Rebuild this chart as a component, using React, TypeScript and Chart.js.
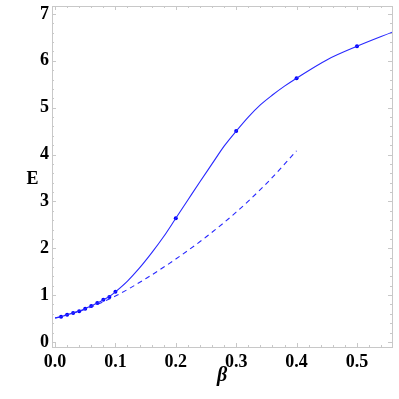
import React, { useEffect, useRef } from "react";
import { Chart, registerables } from "chart.js";

Chart.register(...registerables);

// Solid curve
const solidBeta = [0, 0.01, 0.02, 0.03, 0.04, 0.05, 0.06, 0.07, 0.08, 0.09, 0.1, 0.12, 0.14, 0.16, 0.18, 0.2, 0.22, 0.24, 0.26, 0.28, 0.3, 0.32, 0.34, 0.36, 0.38, 0.4, 0.45, 0.5, 0.56];
const solidE = [0.51, 0.54, 0.58, 0.62, 0.66, 0.71, 0.77, 0.83, 0.9, 0.97, 1.07, 1.3, 1.58, 1.9, 2.25, 2.64, 3.03, 3.42, 3.8, 4.18, 4.5, 4.8, 5.06, 5.27, 5.46, 5.63, 6.02, 6.31, 6.62];

// Dashed curve
const dashedBeta = [0, 0.05, 0.1, 0.15, 0.2, 0.25, 0.3, 0.35, 0.4];
const dashedE = [0.51, 0.7, 0.98, 1.35, 1.77, 2.24, 2.77, 3.38, 4.08];

// Marked points
const dotBeta = [0.01, 0.02, 0.03, 0.04, 0.05, 0.06, 0.07, 0.08, 0.09, 0.1, 0.2, 0.3, 0.4, 0.5];
const dotE = [0.54, 0.58, 0.62, 0.655, 0.71, 0.77, 0.83, 0.9, 0.96, 1.07, 2.64, 4.5, 5.63, 6.31];

// Axis ticks
const xTicks = [0, 0.1, 0.2, 0.3, 0.4, 0.5];
const yTicks = [0, 1, 2, 3, 4, 5, 6, 7];
const xTitle = "β";
const yTitle = "E";

const X_MIN = -0.005;
const X_MAX = 0.558;
const Y_MIN = -0.107;
const Y_MAX = 7.17;

const FONT = "'Liberation Serif', 'Times New Roman', serif";

const framePlugin = {
  id: "frame",
  beforeDatasetsDraw(chart: any) {
    const { ctx, chartArea } = chart;
    const { left, top, right, bottom } = chartArea;
    const xs = chart.scales.x;
    const ys = chart.scales.y;
    ctx.save();
    ctx.strokeStyle = "#c8c8c8";
    ctx.lineWidth = 1;
    ctx.strokeRect(Math.round(left) + 0.5, Math.round(top) + 0.5, Math.round(right - left), Math.round(bottom - top));
    ctx.beginPath();
    const xMinor: number[] = [];
    for (let i = 0; i <= 28; i++) xMinor.push(i * 0.02);
    xMinor.forEach((v) => {
      const major = xTicks.some((t) => Math.abs(t - v) < 1e-6);
      const len = major ? 4 : 2;
      const px = Math.round(xs.getPixelForValue(v)) + 0.5;
      if (px < left || px > right) return;
      ctx.moveTo(px, bottom);
      ctx.lineTo(px, bottom - len);
      ctx.moveTo(px, top);
      ctx.lineTo(px, top + len);
    });
    const yMinor: number[] = [];
    for (let i = 0; i <= 35; i++) yMinor.push(i * 0.2);
    yMinor.forEach((v) => {
      const major = yTicks.some((t) => Math.abs(t - v) < 1e-6);
      const len = major ? 4 : 2;
      const py = Math.round(ys.getPixelForValue(v)) + 0.5;
      if (py < top || py > bottom) return;
      ctx.moveTo(left, py);
      ctx.lineTo(left + len, py);
      ctx.moveTo(right, py);
      ctx.lineTo(right - len, py);
    });
    ctx.stroke();
    ctx.restore();
  },
  afterDraw(chart: any) {
    const { ctx, chartArea } = chart;
    ctx.save();
    ctx.fillStyle = "#000";
    ctx.textAlign = "center";
    ctx.textBaseline = "middle";
    ctx.font = `bold 18px ${FONT}`;
    ctx.fillText(yTitle, 32.5, 179);
    ctx.font = `italic bold 20px ${FONT}`;
    ctx.fillText(xTitle, (chartArea.left + chartArea.right) / 2, 376);
    ctx.restore();
  },
};

export default function App() {
  const ref = useRef<HTMLCanvasElement | null>(null);
  useEffect(() => {
    document.body.style.margin = "0";
    const canvas = ref.current;
    if (!canvas) return;
    const blue = "rgb(40,40,255)";
    const chart = new Chart(canvas, {
      type: "scatter",
      data: {
        datasets: [
          {
            data: solidBeta.map((x, i) => ({ x, y: solidE[i] })),
            showLine: true,
            borderColor: blue,
            borderWidth: 1.1,
            pointRadius: 0,
            cubicInterpolationMode: "monotone",
          },
          {
            data: dashedBeta.map((x, i) => ({ x, y: dashedE[i] })),
            showLine: true,
            borderColor: blue,
            borderWidth: 1.1,
            borderDash: [5, 4],
            pointRadius: 0,
            cubicInterpolationMode: "monotone",
          },
          {
            data: dotBeta.map((x, i) => ({ x, y: dotE[i] })),
            showLine: false,
            backgroundColor: "rgb(0,0,255)",
            borderColor: "rgb(0,0,255)",
            borderWidth: 0,
            pointRadius: 2,
          },
        ],
      } as any,
      options: {
        animation: false,
        responsive: true,
        maintainAspectRatio: false,
        layout: { padding: { left: 0, top: 6, right: 7, bottom: 0 } },
        plugins: { legend: { display: false }, tooltip: { enabled: false } },
        scales: {
          x: {
            type: "linear",
            min: X_MIN,
            max: X_MAX,
            grid: { display: false, drawTicks: false },
            border: { display: false },
            afterBuildTicks: (s: any) => {
              s.ticks = xTicks.map((v) => ({ value: v }));
            },
            afterFit: (s: any) => {
              s.height = 52;
              s.paddingLeft = 0;
              s.paddingRight = 0;
            },
            ticks: {
              padding: 5,
              color: "#000",
              maxRotation: 0,
              font: { family: FONT, size: 18, weight: "bold" },
              callback: (v: any) => Number(v).toFixed(1),
            },
          },
          y: {
            type: "linear",
            min: Y_MIN,
            max: Y_MAX,
            grid: { display: false, drawTicks: false },
            border: { display: false },
            afterBuildTicks: (s: any) => {
              s.ticks = yTicks.map((v) => ({ value: v }));
            },
            afterFit: (s: any) => {
              s.width = 52;
              s.paddingTop = 0;
              s.paddingBottom = 0;
            },
            ticks: {
              padding: 3,
              color: "#000",
              font: { family: FONT, size: 18, weight: "bold" },
              callback: (v: any) => String(v),
            },
          },
        },
      } as any,
      plugins: [framePlugin],
    });
    return () => chart.destroy();
  }, []);
  return (
    <div style={{ position: "absolute", left: 0, top: 0, width: 399, height: 399 }}>
      <canvas ref={ref} />
    </div>
  );
}
